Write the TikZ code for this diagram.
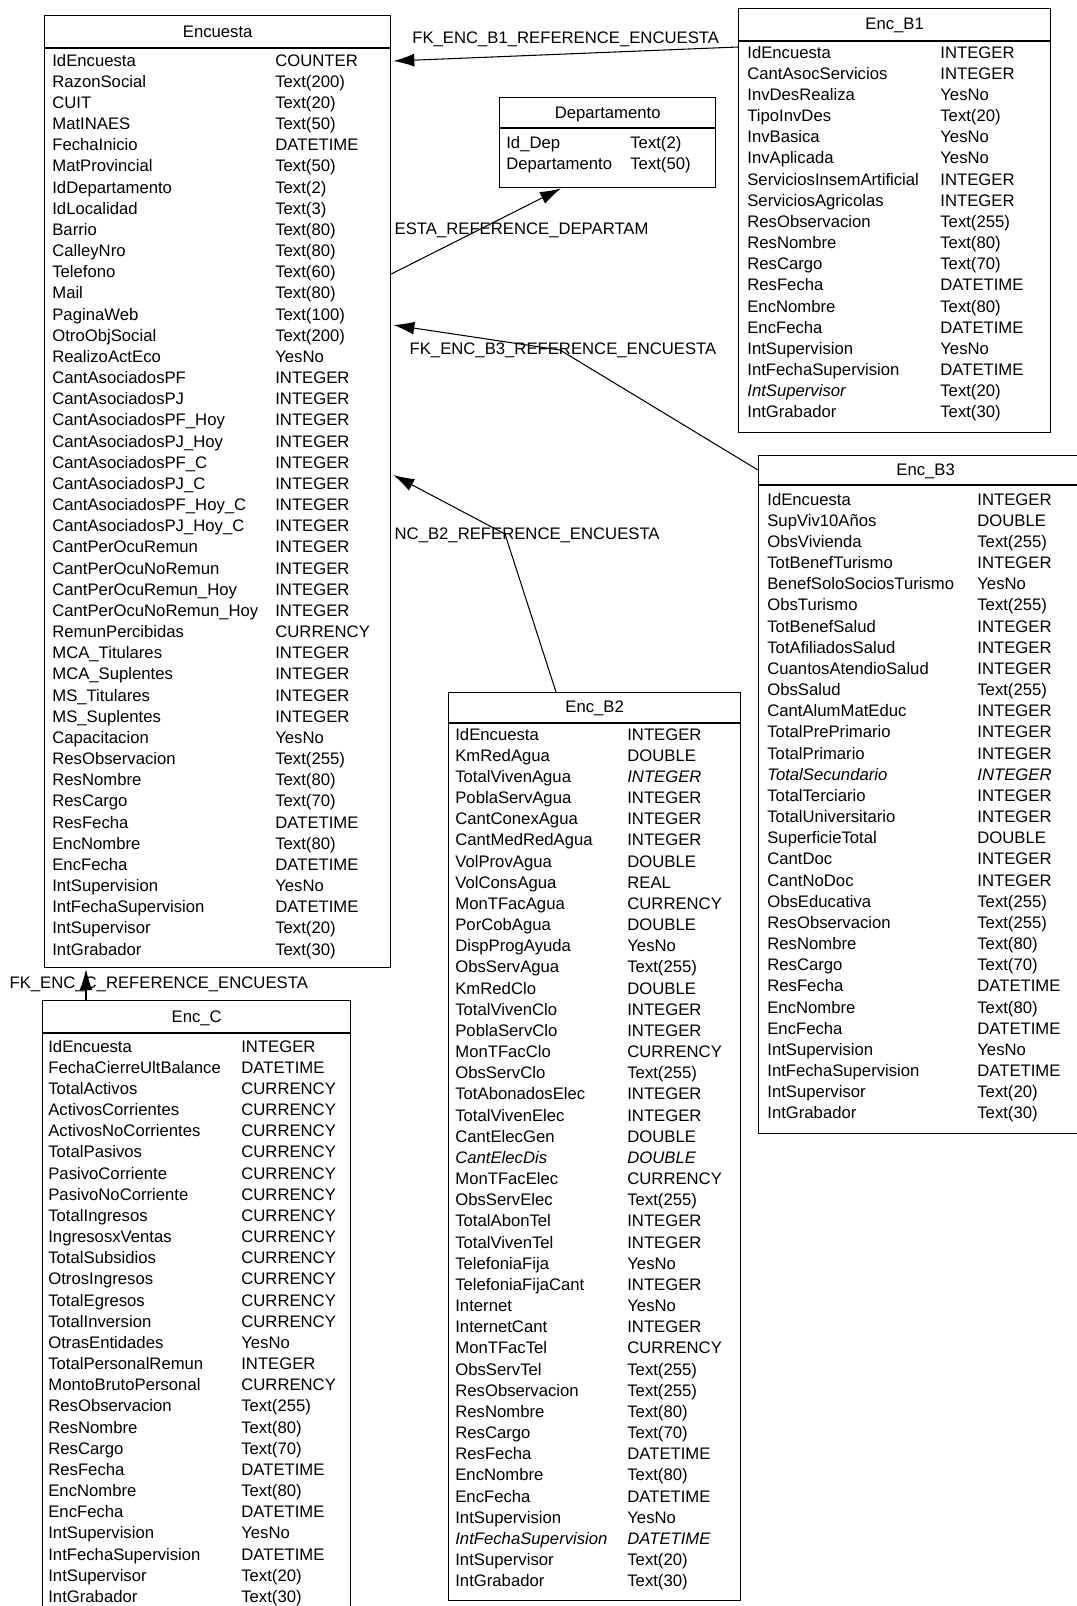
\documentclass[tikz,border=0pt]{standalone}
\usepackage{fontspec}
\setmainfont{Liberation Sans}
\usetikzlibrary{arrows.meta,calc}

% field rows of one table: node, name x, type x, first baseline, name/type list
\newcommand{\tblrows}[5]{%
  \foreach \cname/\ctype [count=\i from 0] in {#5}{
    \node[fld] (#1-n\i) at ($(#1.north west)+(#2,{#4+21.17*\i})$) {\cname};
    \node[fld] (#1-t\i) at ($(#1.north west)+(#3,{#4+21.17*\i})$) {\ctype};
  }}

\begin{document}
\begin{tikzpicture}[x=0.02cm, y=-0.02cm,
  every node/.style={font=\fontsize{9.5}{12}\selectfont, inner sep=0pt},
  tbl/.style={draw, line width=0.8pt, fill=white, anchor=north west},
  hdr/.style={line width=0.7pt},
  ttl/.style={anchor=base},
  fld/.style={anchor=base west},
  lbl/.style={anchor=center},
  fk/.style={-{Latex[length=4.2mm,width=2.6mm]}, line width=0.6pt}]
\path[use as bounding box, clip] (0,0) rectangle (1077,1606);

% Encuesta
\node[tbl, minimum width=6.92cm, minimum height=19.04cm] (encuesta) at (44,15) {};
\node[ttl] (encuesta-title) at ($(encuesta.north)+(0,22)$) {Encuesta};
\draw[hdr] ($(encuesta.north west)+(0,33)$) -- ($(encuesta.north east)+(0,33)$);
\tblrows{encuesta}{8}{231}{51}{IdEncuesta/COUNTER, RazonSocial/Text(200), CUIT/Text(20),
  MatINAES/Text(50), FechaInicio/DATETIME, MatProvincial/Text(50), IdDepartamento/Text(2),
  IdLocalidad/Text(3), Barrio/Text(80), CalleyNro/Text(80), Telefono/Text(60), Mail/Text(80),
  PaginaWeb/Text(100), OtroObjSocial/Text(200), RealizoActEco/YesNo,
  CantAsociadosPF/INTEGER, CantAsociadosPJ/INTEGER, CantAsociadosPF\_Hoy/INTEGER,
  CantAsociadosPJ\_Hoy/INTEGER, CantAsociadosPF\_C/INTEGER, CantAsociadosPJ\_C/INTEGER,
  CantAsociadosPF\_Hoy\_C/INTEGER, CantAsociadosPJ\_Hoy\_C/INTEGER, CantPerOcuRemun/INTEGER,
  CantPerOcuNoRemun/INTEGER, CantPerOcuRemun\_Hoy/INTEGER, CantPerOcuNoRemun\_Hoy/INTEGER,
  RemunPercibidas/CURRENCY, MCA\_Titulares/INTEGER, MCA\_Suplentes/INTEGER,
  MS\_Titulares/INTEGER, MS\_Suplentes/INTEGER, Capacitacion/YesNo, ResObservacion/Text(255),
  ResNombre/Text(80), ResCargo/Text(70), ResFecha/DATETIME, EncNombre/Text(80),
  EncFecha/DATETIME, IntSupervision/YesNo, IntFechaSupervision/DATETIME,
  IntSupervisor/Text(20), IntGrabador/Text(30)}

% Enc_B1
\node[tbl, minimum width=6.24cm, minimum height=8.48cm] (encb1) at (738,8) {};
\node[ttl] (encb1-title) at ($(encb1.north)+(0,21)$) {Enc\_B1};
\draw[hdr] ($(encb1.north west)+(0,33)$) -- ($(encb1.north east)+(0,33)$);
\tblrows{encb1}{9}{202}{50}{IdEncuesta/INTEGER, CantAsocServicios/INTEGER, InvDesRealiza/YesNo,
  TipoInvDes/Text(20), InvBasica/YesNo, InvAplicada/YesNo, ServiciosInsemArtificial/INTEGER,
  ServiciosAgricolas/INTEGER, ResObservacion/Text(255), ResNombre/Text(80), ResCargo/Text(70),
  ResFecha/DATETIME, EncNombre/Text(80), EncFecha/DATETIME, IntSupervision/YesNo,
  IntFechaSupervision/DATETIME, \textit{IntSupervisor}/Text(20), IntGrabador/Text(30)}

% Departamento
\node[tbl, minimum width=4.32cm, minimum height=1.80cm] (dep) at (499,97) {};
\node[ttl] (dep-title) at ($(dep.north)+(0,21)$) {Departamento};
\draw[hdr] ($(dep.north west)+(0,31)$) -- ($(dep.north east)+(0,31)$);
\tblrows{dep}{7}{131}{51}{Id\_Dep/Text(2), Departamento/Text(50)}

% Enc_B3
\node[tbl, minimum width=6.68cm, minimum height=13.56cm] (encb3) at (758,455) {};
\node[ttl] (encb3-title) at ($(encb3.north)+(0,20)$) {Enc\_B3};
\draw[hdr] ($(encb3.north west)+(0,30)$) -- ($(encb3.north east)+(0,30)$);
\tblrows{encb3}{9}{219}{50}{IdEncuesta/INTEGER, SupViv10Años/DOUBLE, ObsVivienda/Text(255),
  TotBenefTurismo/INTEGER, BenefSoloSociosTurismo/YesNo, ObsTurismo/Text(255),
  TotBenefSalud/INTEGER, TotAfiliadosSalud/INTEGER, CuantosAtendioSalud/INTEGER,
  ObsSalud/Text(255), CantAlumMatEduc/INTEGER, TotalPrePrimario/INTEGER, TotalPrimario/INTEGER,
  \textit{TotalSecundario}/\textit{INTEGER}, TotalTerciario/INTEGER, TotalUniversitario/INTEGER,
  SuperficieTotal/DOUBLE, CantDoc/INTEGER, CantNoDoc/INTEGER, ObsEducativa/Text(255),
  ResObservacion/Text(255), ResNombre/Text(80), ResCargo/Text(70), ResFecha/DATETIME,
  EncNombre/Text(80), EncFecha/DATETIME, IntSupervision/YesNo, IntFechaSupervision/DATETIME,
  IntSupervisor/Text(20), IntGrabador/Text(30)}

% Enc_B2
\node[tbl, minimum width=5.84cm, minimum height=18.16cm] (encb2) at (448,692) {};
\node[ttl] (encb2-title) at ($(encb2.north)+(0,20)$) {Enc\_B2};
\draw[hdr] ($(encb2.north west)+(0,31)$) -- ($(encb2.north east)+(0,31)$);
\tblrows{encb2}{7}{179}{48}{IdEncuesta/INTEGER, KmRedAgua/DOUBLE, TotalVivenAgua/\textit{INTEGER},
  PoblaServAgua/INTEGER, CantConexAgua/INTEGER, CantMedRedAgua/INTEGER, VolProvAgua/DOUBLE,
  VolConsAgua/REAL, MonTFacAgua/CURRENCY, PorCobAgua/DOUBLE, DispProgAyuda/YesNo,
  ObsServAgua/Text(255), KmRedClo/DOUBLE, TotalVivenClo/INTEGER, PoblaServClo/INTEGER,
  MonTFacClo/CURRENCY, ObsServClo/Text(255), TotAbonadosElec/INTEGER, TotalVivenElec/INTEGER,
  CantElecGen/DOUBLE, \textit{CantElecDis}/\textit{DOUBLE}, MonTFacElec/CURRENCY,
  ObsServElec/Text(255), TotalAbonTel/INTEGER, TotalVivenTel/INTEGER, TelefoniaFija/YesNo,
  TelefoniaFijaCant/INTEGER, Internet/YesNo, InternetCant/INTEGER, MonTFacTel/CURRENCY,
  ObsServTel/Text(255), ResObservacion/Text(255), ResNombre/Text(80), ResCargo/Text(70),
  ResFecha/DATETIME, EncNombre/Text(80), EncFecha/DATETIME, IntSupervision/YesNo,
  \textit{IntFechaSupervision}/\textit{DATETIME}, IntSupervisor/Text(20), IntGrabador/Text(30)}

% Enc_C
\node[tbl, minimum width=6.16cm, minimum height=12.4cm] (encc) at (42,1000) {};
\node[ttl] (encc-title) at ($(encc.north)+(0,22)$) {Enc\_C};
\draw[hdr] ($(encc.north west)+(0,33)$) -- ($(encc.north east)+(0,33)$);
\tblrows{encc}{6}{199}{52}{IdEncuesta/INTEGER, FechaCierreUltBalance/DATETIME,
  TotalActivos/CURRENCY, ActivosCorrientes/CURRENCY, ActivosNoCorrientes/CURRENCY,
  TotalPasivos/CURRENCY, PasivoCorriente/CURRENCY, PasivoNoCorriente/CURRENCY,
  TotalIngresos/CURRENCY, IngresosxVentas/CURRENCY, TotalSubsidios/CURRENCY,
  OtrosIngresos/CURRENCY, TotalEgresos/CURRENCY, TotalInversion/CURRENCY, OtrasEntidades/YesNo,
  TotalPersonalRemun/INTEGER, MontoBrutoPersonal/CURRENCY, ResObservacion/Text(255),
  ResNombre/Text(80), ResCargo/Text(70), ResFecha/DATETIME, EncNombre/Text(80),
  EncFecha/DATETIME, IntSupervision/YesNo, IntFechaSupervision/DATETIME,
  IntSupervisor/Text(20), IntGrabador/Text(30)}

% references
\coordinate (b3bend) at (560,350);
\coordinate (b2bend) at (505,534);
\draw[fk] ($(encb1.north west)+(0,39)$) -- node[lbl, yshift=8.5pt] (fkb1) {FK\_ENC\_B1\_REFERENCE\_ENCUESTA} ($(encuesta.north east)+(2,46)$);
\draw[fk] ($(encuesta.north east)+(0,259)$) -- ($(dep.south west)+(62,0)$);
\node[lbl, anchor=west] (fkdep) at ($(encuesta.north east)+(3,215)$) {ESTA\_REFERENCE\_DEPARTAM};
\draw[fk] ($(encb3.north west)+(0,15)$) -- (b3bend) -- ($(encuesta.north east)+(2,310)$);
\node[lbl] (fkb3) at ($(b3bend)+(3,0)$) {FK\_ENC\_B3\_REFERENCE\_ENCUESTA};
\draw[fk] ($(encb2.north west)+(108,0)$) -- (b2bend) -- ($(encuesta.north east)+(2,460)$);
\node[lbl, anchor=west] (fkb2) at ($(encuesta.north east)+(3,520)$) {NC\_B2\_REFERENCE\_ENCUESTA};
\draw[fk] ($(encc.north west)+(44,0)$) -- node[lbl, xshift=41.4pt] (fkc) {FK\_ENC\_C\_REFERENCE\_ENCUESTA} ($(encuesta.south west)+(42,1)$);
\end{tikzpicture}
\end{document}
